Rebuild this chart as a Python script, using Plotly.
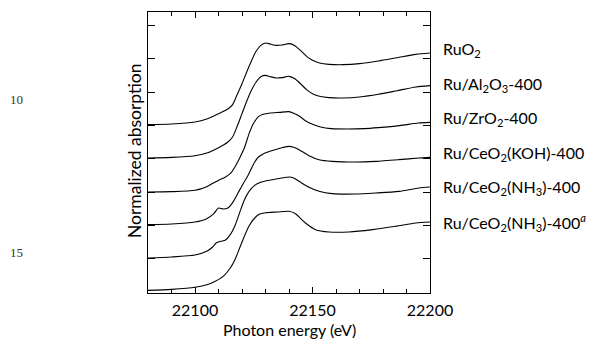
import plotly.graph_objects as go

# ---- data ----
x_ruo2 = [22080, 22090, 22100, 22105, 22110, 22114, 22116, 22118, 22120, 22122, 22124, 22126, 22128, 22130,
          22132, 22134.5, 22137, 22140, 22142.5, 22145, 22147.5, 22150, 22153, 22157, 22163, 22170, 22178,
          22186, 22194, 22200]
y_ruo2 = [5.02, 5.04, 5.10, 5.19, 5.35, 5.49, 5.62, 5.93, 6.25, 6.60, 6.93, 7.22, 7.40, 7.47,
          7.44, 7.40, 7.41, 7.45, 7.39, 7.24, 7.07, 6.95, 6.87, 6.83, 6.82, 6.85, 6.93,
          7.03, 7.13, 7.17]

x_al = [22080, 22090, 22100, 22105, 22110, 22114, 22116, 22118, 22120, 22122, 22124, 22126, 22128, 22130,
        22132, 22134.5, 22137, 22140, 22142.5, 22145, 22147.5, 22150, 22153, 22157, 22163, 22170, 22178,
        22186, 22194, 22200]
y_al = [4.02, 4.04, 4.09, 4.17, 4.33, 4.50, 4.65, 4.98, 5.35, 5.72, 6.05, 6.30, 6.46, 6.50,
        6.46, 6.42, 6.43, 6.47, 6.40, 6.24, 6.07, 5.95, 5.87, 5.83, 5.82, 5.85, 5.93,
        6.04, 6.15, 6.19]

x_zr = [22080, 22090, 22100, 22105, 22108, 22110.5, 22113, 22115, 22117, 22119, 22121, 22123, 22125, 22127,
        22129, 22132, 22136, 22140, 22142, 22144.5, 22147, 22150, 22153, 22158, 22165, 22172, 22178,
        22187, 22195, 22200]
y_zr = [3.00, 3.01, 3.05, 3.16, 3.28, 3.37, 3.45, 3.55, 3.75, 4.02, 4.32, 4.75, 5.07, 5.26,
        5.33, 5.37, 5.39, 5.41, 5.36, 5.27, 5.14, 5.03, 4.96, 4.90, 4.89, 4.90, 4.93,
        4.99, 5.07, 5.09]

x_koh = [22080, 22090, 22100, 22105, 22108, 22110, 22112, 22114, 22116, 22118.3, 22120.5, 22122.6, 22125,
         22127, 22129, 22131, 22134, 22137, 22140, 22142, 22144.3, 22148.5, 22152.8, 22158.4, 22168.4,
         22176.9, 22186.8, 22195.3, 22200]
y_koh = [2.02, 2.04, 2.10, 2.20, 2.35, 2.52, 2.49, 2.52, 2.68, 2.97, 3.25, 3.50, 3.85,
         4.05, 4.14, 4.20, 4.27, 4.33, 4.37, 4.34, 4.27, 4.09, 3.97, 3.92, 3.90,
         3.92, 3.97, 4.02, 4.04]

x_nh3 = [22080, 22090, 22100, 22105, 22107.5, 22109, 22111, 22113, 22115, 22117, 22119, 22121, 22123,
         22125.4, 22128, 22130, 22134, 22137, 22140, 22142, 22144.3, 22148.5, 22152.8, 22158.4, 22168.4,
         22176.9, 22186.8, 22195.3, 22200]
y_nh3 = [1.02, 1.05, 1.11, 1.22, 1.35, 1.47, 1.52, 1.56, 1.72, 1.99, 2.38, 2.76, 3.02,
         3.20, 3.29, 3.33, 3.38, 3.42, 3.45, 3.42, 3.32, 3.14, 3.02, 2.95, 2.94,
         2.97, 3.02, 3.12, 3.15]

x_nh3a = [22080, 22090, 22100, 22105, 22108, 22112, 22115, 22117, 22119, 22121, 22123, 22125.4, 22127.5,
          22130, 22135, 22140, 22142.8, 22145, 22147, 22151.3, 22157, 22165.5, 22175.5, 22185.4,
          22193.9, 22200]
y_nh3a = [0.05, 0.08, 0.14, 0.22, 0.30, 0.47, 0.72, 0.97, 1.32, 1.67, 1.98, 2.22, 2.34,
          2.38, 2.40, 2.42, 2.35, 2.20, 2.07, 1.87, 1.80, 1.80, 1.87, 1.97,
          2.07, 2.10]

labels = ["RuO<sub>2</sub>",
          "Ru/Al<sub>2</sub>O<sub>3</sub>-400",
          "Ru/ZrO<sub>2</sub>-400",
          "Ru/CeO<sub>2</sub>(KOH)-400",
          "Ru/CeO<sub>2</sub>(NH<sub>3</sub>)-400",
          "Ru/CeO<sub>2</sub>(NH<sub>3</sub>)-400<sup><i>a</i></sup>"]
label_y = [7.27, 6.23, 5.20, 4.16, 3.13, 2.09]

x_tickvals = [22100, 22150, 22200]
x_ticktext = ["22100", "22150", "22200"]
line_numbers = ["10", "15"]

series = [(x_ruo2, y_ruo2), (x_al, y_al), (x_zr, y_zr), (x_koh, y_koh), (x_nh3, y_nh3), (x_nh3a, y_nh3a)]

FONT = "Lato"

fig = go.Figure()
for (xs, ys), name in zip(series, labels):
    fig.add_trace(go.Scatter(x=xs, y=ys, mode="lines", name=name,
                             line=dict(color="black", width=1.1, shape="spline", smoothing=0.7),
                             showlegend=False, hoverinfo="skip"))

for txt, yv in zip(labels, label_y):
    fig.add_annotation(x=(441 - 148) / 282, xref="paper", y=yv, yref="y", text=txt, showarrow=False,
                       xanchor="left", yanchor="middle",
                       font=dict(family=FONT, size=16, color="black"))

# axis titles
fig.add_annotation(x=0.5, xref="paper", y=-36.5 / 281, yref="paper", text="Photon energy (eV)",
                   showarrow=False, xanchor="center", yanchor="middle",
                   font=dict(family=FONT, size=16, color="black"))
fig.add_annotation(x=(134 - 148) / 282, xref="paper", y=0.505, yref="paper", text="Normalized absorption",
                   showarrow=False, textangle=-90, xanchor="center", yanchor="middle",
                   font=dict(family=FONT, size=17.5, color="black"))

# manuscript line numbers
for txt, py in zip(line_numbers, [100, 253]):
    fig.add_annotation(x=(16 - 148) / 282, xref="paper", y=(293.3 - py) / 281, yref="paper", text=txt,
                       showarrow=False, xanchor="center", yanchor="middle",
                       font=dict(family="Liberation Serif", size=13, color="#333333"))

fig.update_xaxes(range=[22080, 22200], tickvals=x_tickvals, ticktext=x_ticktext, ticks="inside", ticklen=6,
                 tickcolor="black", tickwidth=1, mirror="ticks", showline=True, linecolor="black",
                 linewidth=1, showgrid=False, zeroline=False, ticklabelstandoff=3,
                 tickfont=dict(family=FONT, size=16, color="black"),
                 minor=dict(dtick=10, tick0=22080, ticks="inside", ticklen=4, tickcolor="black", showgrid=False))
fig.update_yaxes(range=[-0.03, 8.4], dtick=1, tick0=0, ticks="inside", ticklen=7, tickcolor="black",
                 mirror="ticks", showline=True, linecolor="black", linewidth=1, showgrid=False,
                 zeroline=False, showticklabels=False)

fig.update_layout(width=589, height=340, margin=dict(l=148, r=159, t=12, b=47),
                  plot_bgcolor="white", paper_bgcolor="white")

fig.write_html("out.html")
